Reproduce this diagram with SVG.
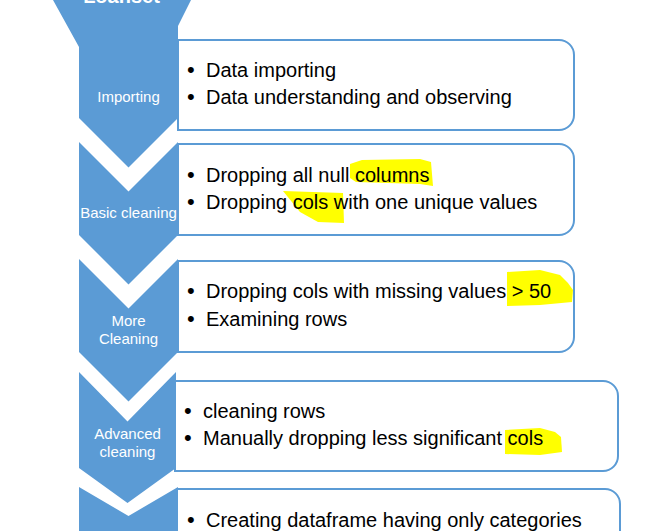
<svg xmlns="http://www.w3.org/2000/svg" width="656" height="531" viewBox="0 0 656 531">
<style>
.chev{fill:#5B9BD5;stroke:none}
.box{fill:#FFFFFF;stroke:#5B9BD5;stroke-width:2}
.hl{fill:#FFFF00;stroke:none}
.lbl{font-family:"Liberation Sans",Arial,sans-serif;font-size:15px;fill:#FFFFFF;text-anchor:middle}
.top{font-family:"Liberation Sans",Arial,sans-serif;font-size:20px;font-weight:bold;fill:#FFFFFF;text-anchor:middle}
.txt{font-family:"Liberation Sans",Arial,sans-serif;font-size:20px;fill:#000000}
.bul{font-size:22px}
</style>
<rect width="656" height="531" fill="#FFFFFF"/>
<g id="connectors"></g>

<g id="box1">
<path class="box" d="M178,40 H559 A15,15 0 0 1 574,55 V115 A15,15 0 0 1 559,130 H178 Z"/>
<text class="txt" y="77"><tspan class="bul" x="187">•</tspan><tspan x="206">Data importing</tspan></text>
<text class="txt" y="104"><tspan class="bul" x="187">•</tspan><tspan x="206">Data understanding and observing</tspan></text>
</g>

<g id="box2">
<path class="box" d="M178,144 H559 A15,15 0 0 1 574,159 V220 A15,15 0 0 1 559,235 H178 Z"/>
<path class="hl" d="M350,164 L362,160 L420,159 L431,162 L433,186 L420,184 L356,182 L350,178 Z"/>
<path class="hl" d="M283,191 L343,193 L344,223 L318,222 L300,212 Z"/>
<text class="txt" y="182"><tspan class="bul" x="187">•</tspan><tspan x="206">Dropping all null columns</tspan></text>
<text class="txt" y="209"><tspan class="bul" x="187">•</tspan><tspan x="206">Dropping cols with one unique values</tspan></text>
</g>

<g id="box3">
<path class="box" d="M178,261 H559 A15,15 0 0 1 574,276 V337 A15,15 0 0 1 559,352 H178 Z"/>
<path class="hl" d="M507,272 L540,270 L560,275 L568,283 L573,290 L572,302 L540,305 L507,306 Z"/>
<text class="txt" y="298"><tspan class="bul" x="187">•</tspan><tspan x="206">Dropping cols with missing values &gt; 50</tspan></text>
<text class="txt" y="326"><tspan class="bul" x="187">•</tspan><tspan x="206">Examining rows</tspan></text>
</g>

<g id="box4">
<path class="box" d="M175,381 H603 A15,15 0 0 1 618,396 V456 A15,15 0 0 1 603,471 H175 Z"/>
<path class="hl" d="M505,430 L540,428 L555,432 L561,437 L562,452 L540,455 L505,454 Z"/>
<text class="txt" y="418"><tspan class="bul" x="184">•</tspan><tspan x="203">cleaning rows</tspan></text>
<text class="txt" y="445"><tspan class="bul" x="184">•</tspan><tspan x="203">Manually dropping less significant cols</tspan></text>
</g>

<g id="box5">
<path class="box" d="M177,489 H605 A15,15 0 0 1 620,504 V560 H177 Z"/>
<text class="txt" y="527"><tspan class="bul" x="187">•</tspan><tspan x="206">Creating dataframe having only categories</tspan></text>
</g>

<g id="chevron-loading">
<path class="chev" d="M53,0 L191,0 L178,26 L178,118 L128.5,167.5 L79,118 L79,47 Z"/>
<text class="top" x="121.5" y="3">Loanset</text>
</g>
<g id="chevron-importing">
<text class="lbl" x="128.5" y="102">Importing</text>
</g>

<g id="chevron-basic">
<path class="chev" d="M79,142 L128.5,191.5 L178,142 L178,235 L128.5,284.5 L79,235 Z"/>
<text class="lbl" x="128.5" y="218">Basic cleaning</text>
</g>

<g id="chevron-more">
<path class="chev" d="M79,259 L128.5,308.5 L178,259 L178,352 L128.5,401.5 L79,352 Z"/>
<text class="lbl" x="128.5" y="326">More</text>
<text class="lbl" x="128.5" y="344">Cleaning</text>
</g>

<g id="chevron-advanced">
<path class="chev" d="M79,372 L127.5,421.5 L176,372 L176,468 L127.5,503 L79,468 Z"/>
<text class="lbl" x="127.5" y="439">Advanced</text>
<text class="lbl" x="127.5" y="457">cleaning</text>
</g>

<g id="chevron-last">
<path class="chev" d="M79,487 L128.5,516 L178,487 L178,531 L79,531 Z"/>
</g>
</svg>
